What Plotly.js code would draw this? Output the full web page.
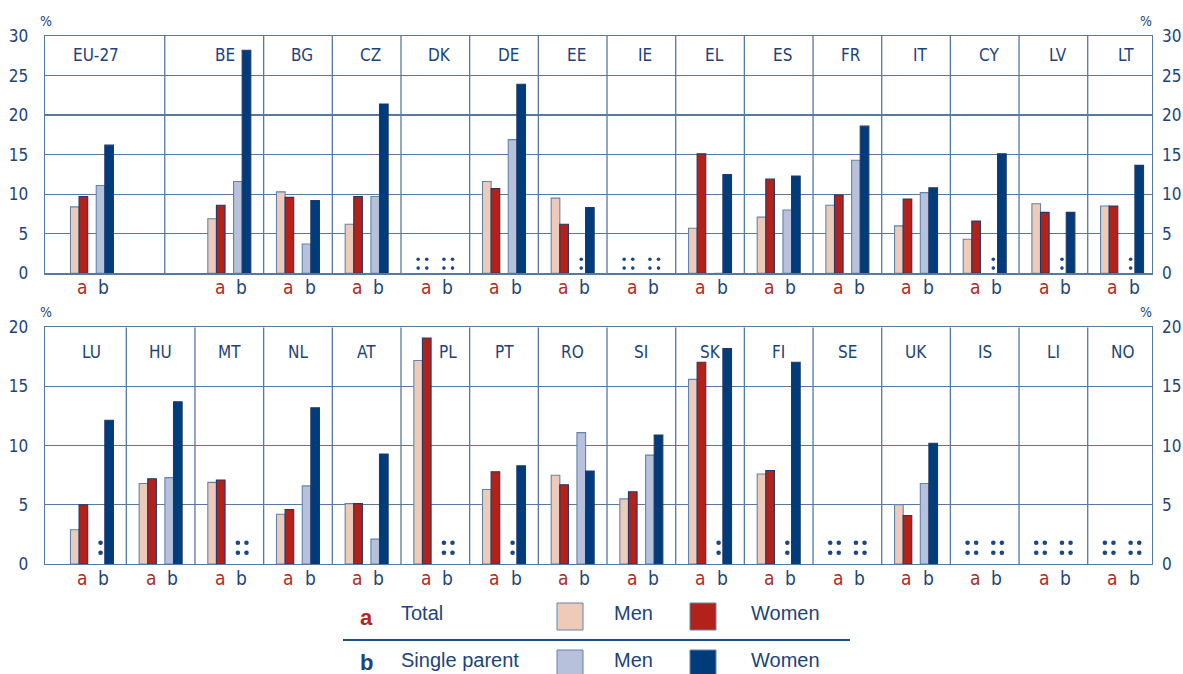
<!DOCTYPE html>
<html>
<head>
<meta charset="utf-8">
<script src="https://cdn.plot.ly/plotly-3.0.1.min.js"></script>
<style>html,body{margin:0;padding:0;background:#fff;}#chart{width:1183px;height:674px;}</style>
</head>
<body>
<div id="chart"></div>
<script>
// ---------- DATA ----------
const topCountries   = ['EU-27','BE','BG','CZ','DK','DE','EE','IE','EL','ES','FR','IT','CY','LV','LT'];
const topTotalMen    = [8.4, 6.9, 10.3, 6.2, null, 11.6, 9.5, null, 5.7, 7.1, 8.6, 6.0, 4.3, 8.8, 8.5];
const topTotalWomen  = [9.7, 8.6, 9.6, 9.7, null, 10.7, 6.2, null, 15.1, 11.9, 9.9, 9.4, 6.6, 7.7, 8.5];
const topSingleMen   = [11.1, 11.6, 3.7, 9.7, null, 16.9, null, null, 0, 8.0, 14.3, 10.2, null, null, null];
const topSingleWomen = [16.2, 28.2, 9.2, 21.4, null, 23.9, 8.3, null, 12.5, 12.3, 18.6, 10.8, 15.1, 7.7, 13.65];

const botCountries   = ['LU','HU','MT','NL','AT','PL','PT','RO','SI','SK','FI','SE','UK','IS','LI','NO'];
const botTotalMen    = [2.9, 6.8, 6.9, 4.2, 5.1, 17.2, 6.3, 7.5, 5.5, 15.6, 7.6, null, 5.0, null, null, null];
const botTotalWomen  = [5.0, 7.2, 7.1, 4.6, 5.1, 19.1, 7.8, 6.7, 6.1, 17.05, 7.9, null, 4.1, null, null, null];
const botSingleMen   = [null, 7.3, null, 6.6, 2.1, null, null, 11.1, 9.2, null, null, null, 6.8, null, null, null];
const botSingleWomen = [12.15, 13.7, null, 13.2, 9.3, null, 8.3, 7.85, 10.9, 18.2, 17.05, null, 10.2, null, null, null];

const topTicks = [0, 5, 10, 15, 20, 25, 30];
const botTicks = [0, 5, 10, 15, 20];
const groupLabels = ['a', 'b'];
const legendRows = ['Total', 'Single parent'];
const legendSex = ['Men', 'Women'];

// ---------- STYLE ----------
const NAVY = '#1d4479';
const RED = '#b5271d';
const GRID = '#5479a3';
const C_TM = '#eecbb9', C_TW = '#b2221a', C_SM = '#b8c1dc', C_SW = '#003b7a';
const L_LIGHT = '#6283ad', L_DARK = '#22386b';
const COND = 'Liberation Sans Narrow, Arial Narrow, DejaVu Sans Condensed, sans-serif';
const SANS = 'Arial, Liberation Sans, sans-serif';

const W = 1183, H = 674;
const M = {l: 45, r: 31, t: 36, b: 110};
const plotH = H - M.t - M.b;
const pxX = px => (px - M.l) / (W - M.l - M.r);
const pxY = py => (H - M.b - py) / plotH;

const topSlots = topCountries.map((c, i) => i === 0 ? 0 : i + 1);
const botSlots = botCountries.map((c, i) => i);
const BW = 0.126;
const OFF = [-0.25, -0.125, 0.125, 0.25];

const traces = [];
function addPanel(slots, series, xa, ya, dotY, dotSize) {
  const fills = [C_TM, C_TW, C_SM, C_SW];
  const lines = [L_LIGHT, L_DARK, L_LIGHT, L_DARK];
  const dx = [], dy = [];
  series.forEach((vals, k) => {
    traces.push({
      type: 'bar', xaxis: xa, yaxis: ya,
      x: slots.map(s => s + OFF[k]), y: vals, width: BW,
      marker: {color: fills[k], line: {color: lines[k], width: 1.1}},
      hoverinfo: 'skip', showlegend: false
    });
    vals.forEach((v, i) => {
      if (v === null) { dotY.forEach(yy => { dx.push(slots[i] + OFF[k]); dy.push(yy); }); }
    });
  });
  traces.push({type: 'scatter', mode: 'markers', xaxis: xa, yaxis: ya, x: dx, y: dy,
    marker: {color: '#1c4784', size: dotSize}, hoverinfo: 'skip', showlegend: false, cliponaxis: false});
}
addPanel(topSlots, [topTotalMen, topTotalWomen, topSingleMen, topSingleWomen], 'x', 'y', [1.78, 0.66], 3.6);
addPanel(botSlots, [botTotalMen, botTotalWomen, botSingleMen, botSingleWomen], 'x2', 'y2', [1.8, 0.95], 4.6);
traces.push({type: 'scatter', x: [null], y: [null], xaxis: 'x', yaxis: 'y3', showlegend: false, hoverinfo: 'skip'});
traces.push({type: 'scatter', x: [null], y: [null], xaxis: 'x2', yaxis: 'y4', showlegend: false, hoverinfo: 'skip'});

const XR = [-0.684, 15.436];
const xBase = {range: XR, showgrid: false, zeroline: false, showticklabels: false, ticks: '',
  showline: true, mirror: true, linecolor: GRID, linewidth: 1.3, fixedrange: true};
const tickFont = {family: COND, size: 17, color: NAVY};
const yBase = {showgrid: true, gridcolor: GRID, gridwidth: 1.3, zeroline: false, ticks: '',
  showline: true, mirror: true, linecolor: GRID, linewidth: 1.3, tickfont: tickFont, ticklabelstandoff: 12, fixedrange: true};
const topDom = [pxY(273.3), 1];
const botDom = [0, pxY(327.3)];

const shapes = [];
const annotations = [];
// separators
const topSeps = [1.06];
for (let i = 2; i <= 14; i++) topSeps.push(i + 0.5);
topSeps.forEach(s => shapes.push({type: 'line', xref: 'x', yref: 'y', x0: s, x1: s, y0: 0, y1: 30,
  line: {color: GRID, width: 1.3}, layer: 'below'}));
for (let i = 0; i <= 14; i++) shapes.push({type: 'line', xref: 'x2', yref: 'y2', x0: i + 0.5, x1: i + 0.5, y0: 0, y1: 20,
  line: {color: GRID, width: 1.3}, layer: 'below'});

// country headers
topCountries.forEach((c, i) => annotations.push({xref: 'x', yref: 'y', x: topSlots[i] + (c === 'BE' ? -0.07 : 0.06), y: 27.6,
  xanchor: 'center', yanchor: 'middle', text: c, showarrow: false, font: {family: COND, size: 17, color: NAVY}}));
botCountries.forEach((c, i) => annotations.push({xref: 'x2', yref: 'y2', x: botSlots[i] + (c === 'PL' ? 0.19 : 0), y: 17.9,
  xanchor: 'center', yanchor: 'middle', text: c, showarrow: false, font: {family: COND, size: 17, color: NAVY}}));
// a / b labels
[[topSlots, 'x', 'y'], [botSlots, 'x2', 'y2']].forEach(([slots, xa, ya]) => {
  slots.forEach(s => {
    annotations.push({xref: xa, yref: ya, x: s - 0.14, y: 0, xanchor: 'center', yanchor: 'top', yshift: -1, text: groupLabels[0], showarrow: false,
      font: {family: COND, size: 19, color: RED}});
    annotations.push({xref: xa, yref: ya, x: s + 0.175, y: 0, xanchor: 'center', yanchor: 'top', yshift: -1, text: groupLabels[1], showarrow: false,
      font: {family: COND, size: 19, color: NAVY}});
  });
});
// % labels
[[46, 21], [1146, 21], [46, 312], [1146, 312]].forEach(([px, py]) => annotations.push({xref: 'paper', yref: 'paper',
  x: pxX(px), y: pxY(py), xanchor: 'center', yanchor: 'middle', text: '%', showarrow: false, font: {family: COND, size: 14, color: NAVY}}));

// legend
const rowY = [616, 663];
const boxX = [557, 690];
const fillsL = [[C_TM, C_TW], [C_SM, C_SW]];
const linesL = [[L_LIGHT, L_LIGHT], [L_LIGHT, L_LIGHT]];
rowY.forEach((ry, r) => {
  annotations.push({xref: 'paper', yref: 'paper', x: pxX(366), y: pxY(r === 0 ? ry + 1 : ry - 1), xanchor: 'center', yanchor: 'middle',
    text: groupLabels[r], showarrow: false, font: {family: SANS, size: 22, weight: 'bold', color: r === 0 ? RED : NAVY}});
  annotations.push({xref: 'paper', yref: 'paper', x: pxX(399), xanchor: 'left', yanchor: 'middle', y: pxY(ry - 3), text: legendRows[r], showarrow: false,
    font: {family: SANS, size: 20, color: NAVY}});
  legendSex.forEach((s, k) => {
    shapes.push({type: 'rect', xref: 'paper', yref: 'paper', x0: pxX(boxX[k]), x1: pxX(boxX[k] + 26),
      y0: pxY(ry - 13), y1: pxY(ry + 14), fillcolor: fillsL[r][k], line: {color: linesL[r][k], width: 1}});
    annotations.push({xref: 'paper', yref: 'paper', x: pxX(k === 0 ? 612 : 749), xanchor: 'left', yanchor: 'middle', y: pxY(ry - 3), text: s,
      showarrow: false, font: {family: SANS, size: 20, color: NAVY}});
  });
});
shapes.push({type: 'line', xref: 'paper', yref: 'paper', x0: pxX(343), x1: pxX(850), y0: pxY(640), y1: pxY(640),
  line: {color: '#1d4d8a', width: 2}});

const layout = {
  width: W, height: H, margin: M, paper_bgcolor: '#fff', plot_bgcolor: '#fff',
  showlegend: false, barmode: 'overlay',
  xaxis: Object.assign({}, xBase, {anchor: 'y', domain: [0, 1]}),
  xaxis2: Object.assign({}, xBase, {anchor: 'y2', domain: [0, 1]}),
  yaxis: Object.assign({}, yBase, {anchor: 'x', domain: topDom, range: [0, 30], tickvals: topTicks}),
  yaxis2: Object.assign({}, yBase, {anchor: 'x2', domain: botDom, range: [0, 20], tickvals: botTicks}),
  yaxis3: {overlaying: 'y', anchor: 'x', side: 'right', range: [0, 30], tickvals: topTicks, showgrid: false, zeroline: false,
    showline: false, ticks: '', tickfont: tickFont, ticklabelstandoff: 9, fixedrange: true},
  yaxis4: {overlaying: 'y2', anchor: 'x2', side: 'right', range: [0, 20], tickvals: botTicks, showgrid: false, zeroline: false,
    showline: false, ticks: '', tickfont: tickFont, ticklabelstandoff: 9, fixedrange: true},
  shapes: shapes, annotations: annotations
};
Plotly.newPlot('chart', traces, layout, {staticPlot: true, displayModeBar: false});
</script>
</body>
</html>
